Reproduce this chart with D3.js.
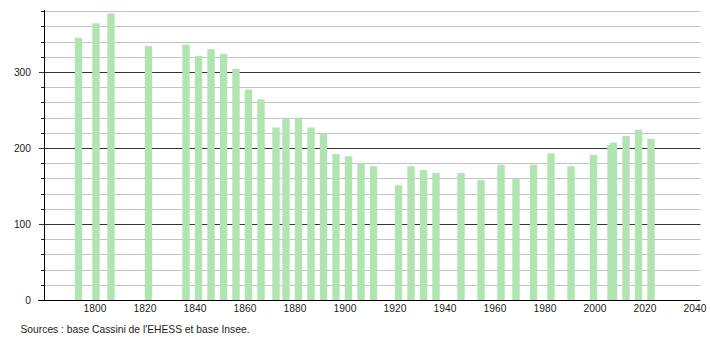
<!DOCTYPE html>
<html>
<head>
<meta charset="utf-8">
<script src="https://cdn.jsdelivr.net/npm/d3@7"></script>
<style>
  body { margin: 0; background: #fff; }
  text { font-family: "Liberation Sans", Arial, sans-serif; }
</style>
</head>
<body>
<script>

// census years and population
var years = [1793, 1800, 1806, 1821, 1836, 1841, 1846, 1851, 1856, 1861, 1866,
             1872, 1876, 1881, 1886, 1891, 1896, 1901, 1906, 1911, 1921, 1926,
             1931, 1936, 1946, 1954, 1962, 1968, 1975, 1982, 1990, 1999, 2006,
             2007, 2012, 2017, 2022];
var population = [345, 364, 377, 334, 336, 321, 330, 324, 304, 277, 264,
                  227, 238, 240, 227, 219, 192, 189, 180, 176, 151, 176,
                  171, 167, 167, 158, 178, 160, 178, 193, 176, 191, 204,
                  207, 216, 224, 212];

var xTicks = [1800, 1820, 1840, 1860, 1880, 1900, 1920, 1940, 1960, 1980, 2000, 2020, 2040];
var yMajor = [0, 100, 200, 300];
var yMinor = [20, 40, 60, 80, 120, 140, 160, 180, 220, 240, 260, 280, 320, 340, 360, 380];
var source = "Sources : base Cassini de l'EHESS et base Insee.";

var data = years.map(function(y, i) { return {year: y, value: population[i]}; });

var svg = d3.select("body")
  .append("svg")
    .attr("width", 710)
    .attr("height", 340);

// scales
var x = d3.scaleLinear()
  .domain([1779.4, 2042])
  .range([44, 700.5]);

var y = d3.scaleLinear()
  .domain([0, 380])
  .range([300, 11.2]);

var barW = x(1803) - x(1800) - 0.1;
var digitW = 5.7; // the font in the picture is a bit narrow

// minor grid lines
svg.append("g")
  .selectAll("line")
  .data(yMinor)
  .enter()
  .append("line")
    .attr("x1", 41)
    .attr("x2", 700.5)
    .attr("y1", function(d) { return Math.round(y(d)) + 0.5; })
    .attr("y2", function(d) { return Math.round(y(d)) + 0.5; })
    .attr("stroke", "#c4c4c4")
    .attr("stroke-width", 1);

// little ticks left of the axis are darker
svg.append("g")
  .selectAll("line")
  .data(yMinor)
  .enter()
  .append("line")
    .attr("x1", 41)
    .attr("x2", 44)
    .attr("y1", function(d) { return Math.round(y(d)) + 0.5; })
    .attr("y2", function(d) { return Math.round(y(d)) + 0.5; })
    .attr("stroke", "#222");

// major grid lines
svg.append("g")
  .selectAll("line")
  .data(yMajor.slice(1))
  .enter()
  .append("line")
    .attr("x1", 39)
    .attr("x2", 700.5)
    .attr("y1", function(d) { return Math.round(y(d)) + 0.5; })
    .attr("y2", function(d) { return Math.round(y(d)) + 0.5; })
    .attr("stroke", "#333")
    .attr("stroke-width", 1);

// bars
svg.append("g")
  .selectAll("rect")
  .data(data)
  .enter()
  .append("rect")
    .attr("x", function(d) { return x(d.year) + 0.5 - barW / 2; })
    .attr("y", function(d) { return y(d.value); })
    .attr("width", barW)
    .attr("height", function(d) { return y(0) - y(d.value); })
    .style("fill", "#b0e4b0");

// axes lines
svg.append("line")
  .attr("x1", 44.5).attr("x2", 44.5)
  .attr("y1", 10).attr("y2", 300)
  .attr("stroke", "#000");

svg.append("line")
  .attr("x1", 38).attr("x2", 700.5)
  .attr("y1", 300.5).attr("y2", 300.5)
  .attr("stroke", "#000");

// y labels
svg.append("g")
  .selectAll("text")
  .data(yMajor)
  .enter()
  .append("text")
    .attr("x", 31)
    .attr("y", function(d) { return y(d) + 4; })
    .attr("text-anchor", "end")
    .attr("textLength", function(d) { return String(d).length * digitW; })
    .attr("lengthAdjust", "spacingAndGlyphs")
    .style("font-size", "11px")
    .style("fill", "#222")
    .text(function(d) { return d; });

// x labels
svg.append("g")
  .selectAll("text")
  .data(xTicks)
  .enter()
  .append("text")
    .attr("x", function(d) { return x(d) - 0.5; })
    .attr("y", 312)
    .attr("text-anchor", "middle")
    .attr("textLength", 4 * digitW)
    .attr("lengthAdjust", "spacingAndGlyphs")
    .style("font-size", "11px")
    .style("fill", "#222")
    .text(function(d) { return d; });

svg.append("text")
  .attr("x", 20.5)
  .attr("y", 333)
  .attr("textLength", 229)
  .attr("lengthAdjust", "spacingAndGlyphs")
  .style("font-size", "11px")
  .style("fill", "#222")
  .text(source);

</script>
</body>
</html>
